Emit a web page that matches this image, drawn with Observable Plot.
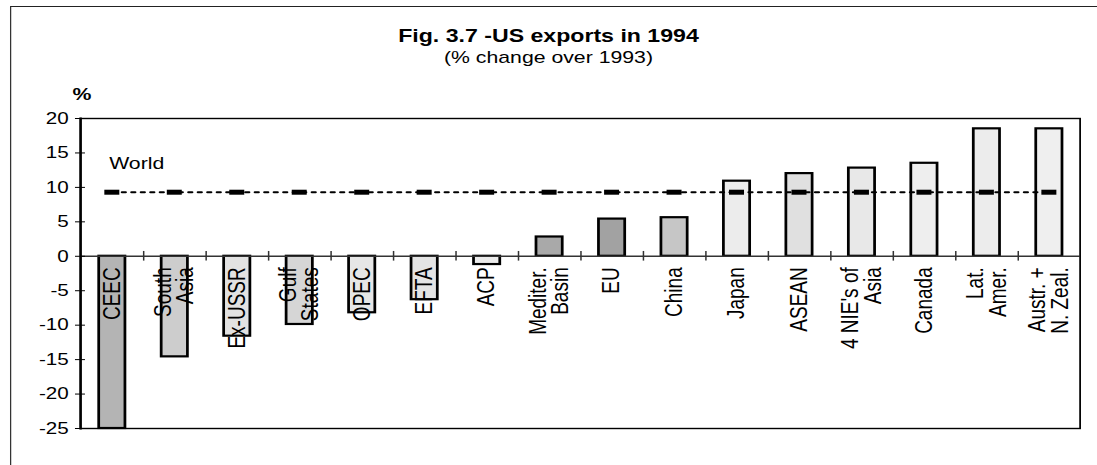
<!DOCTYPE html>
<html>
<head>
<meta charset="utf-8">
<script src="https://cdn.jsdelivr.net/npm/d3@7"></script>
<script src="https://cdn.jsdelivr.net/npm/@observablehq/plot@0.6"></script>
<style>
  html, body { margin: 0; padding: 0; background: #fff; }
  body { width: 1097px; height: 465px; overflow: hidden; position: relative;
         font-family: "Liberation Sans", Arial, Helvetica, sans-serif; color: #000; }
  #stretch { position: absolute; left: 0; top: 0; width: 878px; height: 465px;
             transform: scaleX(1.2494); transform-origin: 0 0; }
  #outer { position: absolute; left: 8px; top: 6px; right: -30px; bottom: -10px;
           border-left: 1.3px solid #333; border-top: 1.6px solid #222; }
  #title { position: absolute; left: 0; right: 0; top: 27px; text-align: center;
           font-weight: bold; font-size: 18.5px; line-height: 1; }
  #subtitle { position: absolute; left: 0; right: 0; top: 48.6px; text-align: center;
              font-size: 17px; line-height: 1; }
  #pct { position: absolute; left: 58px; top: 86px; font-weight: bold; font-size: 17px; line-height: 1; }
  #chart { position: absolute; left: 0; top: 70px; }
</style>
</head>
<body>
<div id="stretch">
  <div id="outer"></div>
  <div id="title">Fig. 3.7 -US exports in 1994</div>
  <div id="subtitle">(% change over 1993)</div>
  <div id="pct">%</div>
  <div id="chart"></div>
</div>
<script>
// ---- data ----
const regions = ["CEEC", "South Asia", "Ex-USSR", "Gulf States", "OPEC", "EFTA", "ACP",
  "Mediter. Basin", "EU", "China", "Japan", "ASEAN", "4 NIE's of Asia", "Canada",
  "Lat. Amer.", "Austr. + N. Zeal."];
const regionLabels = ["CEEC", "South\nAsia", "Ex-USSR", "Gulf\nStates", "OPEC", "EFTA", "ACP",
  "Mediter.\nBasin", "EU", "China", "Japan", "ASEAN", "4 NIE's of\nAsia", "Canada",
  "Lat.\nAmer.", "Austr. +\nN. Zeal."];
const change1994 = [-25, -14.6, -11.6, -9.9, -8.2, -6.3, -1.2, 2.8, 5.4, 5.6, 10.9, 12.0, 12.8, 13.5, 18.5, 18.5];
const worldChange = 9.3;
const worldLabel = "World";
const yTicks = [-25, -20, -15, -10, -5, 0, 5, 10, 15, 20];

// ---- styling (not data) ----
const barShade = {
  "CEEC": "#b4b4b4", "South Asia": "#cdcdcd", "Ex-USSR": "#e2e2e2", "Gulf States": "#d6d6d6",
  "OPEC": "#e6e6e6", "EFTA": "#e4e4e4", "ACP": "#ebebeb", "Mediter. Basin": "#a9a9a9",
  "EU": "#a2a2a2", "China": "#c6c6c6", "Japan": "#ececec", "ASEAN": "#e0e0e0",
  "4 NIE's of Asia": "#e8e8e8", "Canada": "#eeeeee", "Lat. Amer.": "#ececec", "Austr. + N. Zeal.": "#efefef"
};

const rows = regions.map((r, i) => ({region: r, label: regionLabels[i], change: change1994[i]}));

const W = 878, H = 395;
const mL = 64, mR = 14, mT = 48, mB = 37;
const step = (W - mL - mR) / regions.length;

const chart = Plot.plot({
  width: W, height: H,
  marginLeft: mL, marginRight: mR, marginTop: mT, marginBottom: mB,
  style: {fontFamily: '"Liberation Sans", Arial, Helvetica, sans-serif', fontSize: "16px", color: "#000", background: "transparent"},
  x: {domain: regions, paddingInner: 0.58, paddingOuter: 0.29, axis: null},
  y: {domain: [-25, 20], axis: null},
  marks: [
    Plot.barY(rows, {x: "region", y: "change", fill: d => barShade[d.region], stroke: "#000", strokeWidth: 2.2}),
    Plot.ruleY([0], {stroke: "#333", strokeWidth: 1.4}),
    Plot.ruleX(regions.slice(0, -1), {x: d => d, y1: -0.7, y2: 0.7, dx: step / 2, stroke: "#333", strokeWidth: 1.2}),
    Plot.frame({stroke: "#000", strokeWidth: 1.4}),
    Plot.frame({anchor: "left", stroke: "#000", strokeWidth: 2}),
    Plot.axisY({ticks: yTicks, tickSize: 4, tickPadding: 5.5, tickFormat: d => String(d), label: null, stroke: "#000", fill: "#000", fontSize: 16.5}),
    Plot.axisY({ticks: yTicks, tickSize: 4, dx: 4, tickFormat: () => "", label: null, stroke: "#000"}),
    Plot.lineY(regions, {x: d => d, y: () => worldChange, stroke: "#000", strokeWidth: 2, strokeDasharray: "3,4.6"}),
    Plot.tickY(regions, {x: d => d, y: () => worldChange, stroke: "#000", strokeWidth: 5, insetLeft: 4.5, insetRight: 4.5}),
    Plot.text([worldLabel], {x: () => regions[0], y: () => 13.5, text: d => d, textAnchor: "start", dx: -2.6, fontSize: 17, fill: "#000"}),
    Plot.text(rows, {x: "region", y: 0, text: "label", rotate: -90, textAnchor: "end", lineAnchor: "middle",
      dy: 11, fontSize: 19, lineHeight: 0.95, fill: "#000"})
  ]
});
document.getElementById("chart").appendChild(chart);
</script>
</body>
</html>
